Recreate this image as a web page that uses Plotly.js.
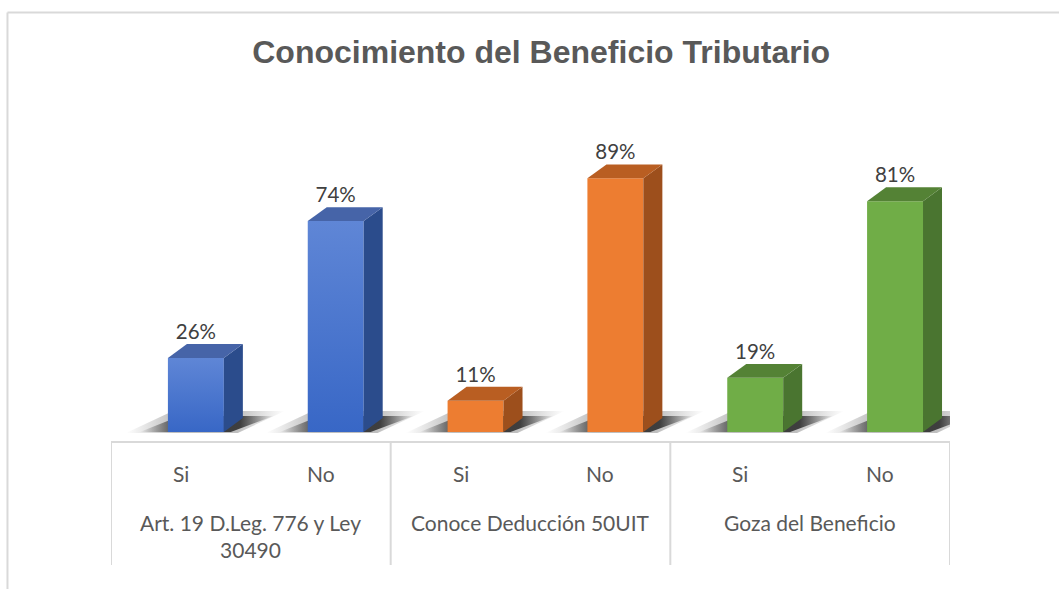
<!DOCTYPE html>
<html><head><meta charset="utf-8">
<script src="https://cdn.plot.ly/plotly-3.0.1.min.js"></script>
<style>html,body{margin:0;padding:0;background:#fff}#chart{width:1059px;height:589px}</style>
</head><body><div id="chart"></div>
<script>
// ---- data ----
const groups = ["Art. 19 D.Leg. 776 y Ley<br>30490", "Conoce Deducción 50UIT", "Goza del Beneficio"];
const answers = ["Si", "No"];
const artValues = [26, 74];
const deduccionValues = [11, 89];
const gozaValues = [19, 81];
const valueLabels = [["26%", "74%"], ["11%", "89%"], ["19%", "81%"]];
const chartTitle = "Conocimiento del Beneficio Tributario";

// ---- styles ----
const palettes = [
  {front: "#4472C4", grad: [[0, "#3867c6"], [1, "#5f86d6"]], side: "#2b4c8c", top: "#4664a8"},
  {front: "#ED7D31", grad: null, side: "#9d4f1c", top: "#b95e22"},
  {front: "#70AD47", grad: null, side: "#4a7530", top: "#548235"}
];
const BAR_W = 0.4, SHIFT = 0.107, DX = 0.136, DY = 4.9;
const FONT = "Lato, 'Open Sans', sans-serif";
const seriesValues = [artValues, deduccionValues, gozaValues];

const traces = [];
const labelX = [], labelY = [], labelT = [];
seriesValues.forEach((vals, g) => {
  const p = palettes[g];
  vals.forEach((v, j) => {
    const i = g * answers.length + j;
    const c = i + SHIFT, L = c - BAR_W / 2, R = c + BAR_W / 2;
    // soft floor shadow (outer, lighter)
    traces.push({type: "scatter", mode: "none", fill: "toself", hoverinfo: "skip",
      x: [L - 0.3, R + 0.1, R + DX + 0.3, L + DX - 0.1, L - 0.3],
      y: [-0.3, -0.3, DY * 1.5, DY * 1.5, -0.3],
      fillgradient: {type: "horizontal", colorscale: [[0, "rgba(80,80,80,0)"], [0.3, "rgba(70,70,70,0.35)"], [0.7, "rgba(70,70,70,0.35)"], [1, "rgba(80,80,80,0)"]]}
    });
    // inner, darker shadow
    traces.push({type: "scatter", mode: "none", fill: "toself", hoverinfo: "skip",
      x: [L - 0.2, R + 0.05, R + DX + 0.22, L + DX - 0.05, L - 0.2],
      y: [0, 0, DY * 1.15, DY * 1.15, 0],
      fillgradient: {type: "horizontal", colorscale: [[0, "rgba(40,40,40,0)"], [0.3, "rgba(30,30,30,0.8)"], [0.75, "rgba(30,30,30,0.8)"], [1, "rgba(40,40,40,0)"]]}
    });
    // front face
    const front = {type: "scatter", mode: "none", fill: "toself", hoverinfo: "skip",
      x: [L, R, R, L, L], y: [0, 0, v, v, 0], fillcolor: p.front};
    if (p.grad) front.fillgradient = {type: "vertical", colorscale: p.grad};
    traces.push(front);
    // side face
    traces.push({type: "scatter", mode: "none", fill: "toself", hoverinfo: "skip",
      x: [R, R + DX, R + DX, R, R], y: [0, DY, v + DY, v, 0], fillcolor: p.side});
    // top face
    traces.push({type: "scatter", mode: "none", fill: "toself", hoverinfo: "skip",
      x: [L, R, R + DX, L + DX, L], y: [v, v, v + DY, v + DY, v], fillcolor: p.top});
    labelX.push(c); labelY.push(v + DY); labelT.push(valueLabels[g][j]);
  });
});
traces.push({type: "scatter", mode: "text", x: labelX, y: labelY, text: labelT,
  textposition: "top center", hoverinfo: "skip", cliponaxis: false,
  textfont: {family: FONT, size: 20.5, color: "#404040"}});

// ---- layout: table-like category axis ----
const annotations = [];
const shapes = [];
const nCat = groups.length * answers.length;
const yRow1 = -0.108, yRow2 = -0.225;
groups.forEach((gname, g) => {
  answers.forEach((a, j) => {
    annotations.push({x: g * answers.length + j, y: yRow1, xref: "x", yref: "paper", text: a,
      showarrow: false, yanchor: "middle",
      font: {family: FONT, size: 21, color: "#595959"}});
  });
  annotations.push({x: g * answers.length + (answers.length - 1) / 2, y: yRow2, xref: "x", yref: "paper",
    text: gname, showarrow: false, yanchor: "top", align: "center",
    font: {family: FONT, size: 21, color: "#595959"}});
});
const lineStyle = {color: "#d9d9d9", width: 2};
shapes.push({type: "line", xref: "x", yref: "paper", x0: -0.5, x1: nCat - 0.5, y0: 0, y1: 0, line: lineStyle});
for (let g = 0; g <= groups.length; g++) {
  const xb = g * answers.length - 0.5;
  shapes.push({type: "line", xref: "x", yref: "paper", x0: xb, x1: xb, y0: 0, y1: -0.417, line: lineStyle});
}
// chart frame (left & top edges visible)
shapes.push({type: "line", xref: "paper", yref: "paper", x0: -0.1234, x1: -0.1234, y0: 1.456, y1: -0.6, line: lineStyle});
shapes.push({type: "line", xref: "paper", yref: "paper", x0: -0.1234, x1: 1.2, y0: 1.456, y1: 1.456, line: lineStyle});

const layout = {
  width: 1059, height: 589,
  margin: {l: 111, r: 109, t: 147, b: 147},
  paper_bgcolor: "#ffffff", plot_bgcolor: "rgba(0,0,0,0)",
  showlegend: false,
  title: {text: "<b>" + chartTitle + "</b>", xref: "container", yref: "container", x: 0.511, y: 0.912,
    xanchor: "center", yanchor: "middle",
    font: {family: "'Liberation Sans', Arial, sans-serif", size: 32, color: "#595959"}},
  xaxis: {range: [-0.5, nCat - 0.5], visible: false, fixedrange: true},
  yaxis: {range: [-3.5, 100], visible: false, fixedrange: true},
  annotations: annotations, shapes: shapes
};
Plotly.newPlot("chart", traces, layout, {displayModeBar: false, staticPlot: true});
</script>
</body></html>
